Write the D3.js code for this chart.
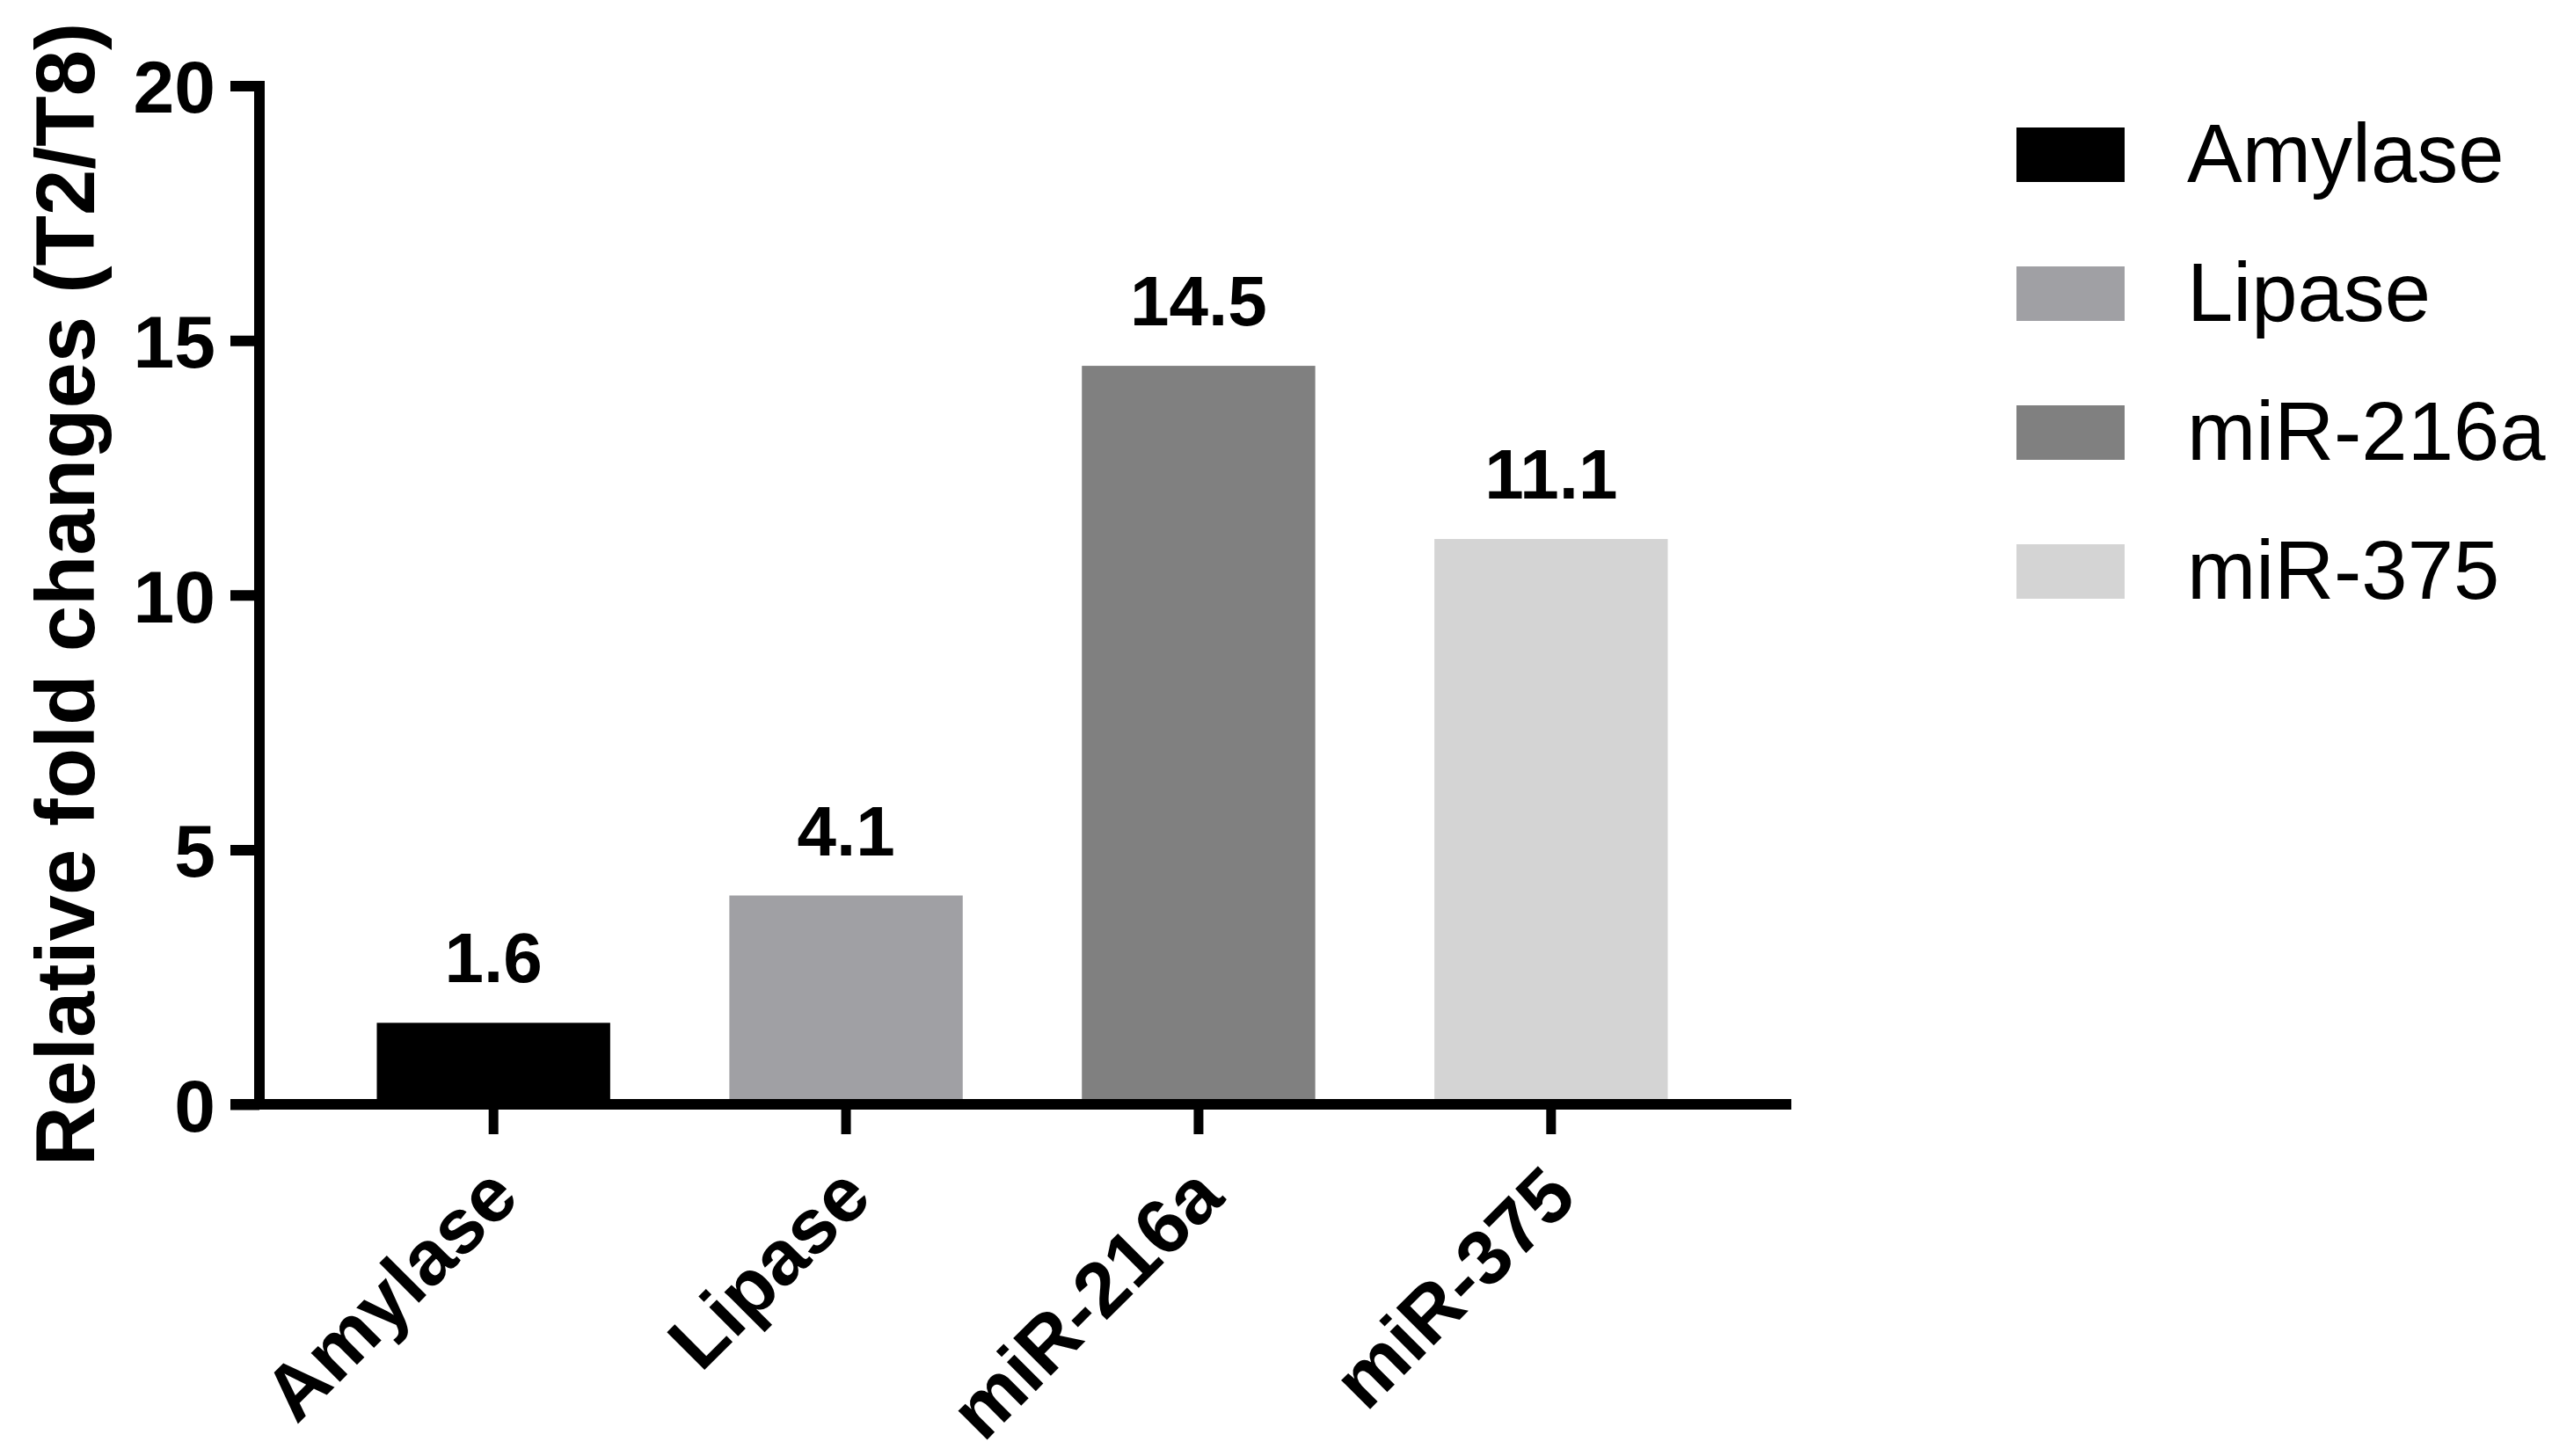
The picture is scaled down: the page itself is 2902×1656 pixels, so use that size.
<!DOCTYPE html>
<html lang="en">
<head>
	<meta charset="UTF-8">
	<title>Relative fold changes (T2/T8)</title>
	<script src="https://d3js.org/d3.v7.min.js"></script>
	<style>
		body {
			margin: 0;
			background: #fff;
		}
		svg {
			display: block;
			background: #fff;
			font-family: "Liberation Sans", Arial, Helvetica, sans-serif;
		}
		.axis path,
		.axis line {
			stroke: #000;
			stroke-width: 12;
		}
		.axis text {
			font-weight: bold;
			fill: #000;
		}
	</style>
</head>
<body>

<script>
	// data
	var categories = ["Amylase", "Lipase", "miR-216a", "miR-375"];
	var values = [1.6, 4.1, 14.5, 11.1];
	var colors = ["#000000", "#a0a0a4", "#808080", "#d4d4d4"];
	var yTicks = [0, 5, 10, 15, 20];
	var yLabel = "Relative fold changes (T2/T8)";

	window.onload = function () {

		var width = 2902,
			height = 1656;

		var svg = d3.select("body").append("svg")
			.attr("width", width)
			.attr("height", height);

		var x = d3.scaleBand()
			.domain(categories)
			.range([295, 2030])
			.paddingInner(0.338)
			.paddingOuter(0.333);

		var y = d3.scaleLinear()
			.domain([0, 20])
			.range([1256, 97.5]);

		var color = d3.scaleOrdinal()
			.domain(categories)
			.range(colors);

		// bars
		svg.append("g")
			.selectAll("rect")
			.data(values)
			.enter().append("rect")
			.attr("x", function (d, i) { return x(categories[i]); })
			.attr("y", function (d) { return y(d); })
			.attr("width", x.bandwidth())
			.attr("height", function (d) { return y(0) - y(d); })
			.style("fill", function (d, i) { return color(categories[i]); });

		// value labels on top
		svg.append("g")
			.selectAll("text")
			.data(values)
			.enter().append("text")
			.attr("x", function (d, i) { return x(categories[i]) + x.bandwidth() / 2; })
			.attr("y", function (d) { return y(d) - 46; })
			.attr("text-anchor", "middle")
			.style("font-size", "80px")
			.style("font-weight", "bold")
			.text(function (d) { return d3.format(".1f")(d); });

		// y axis
		var yAxis = svg.append("g")
			.attr("class", "axis")
			.attr("transform", "translate(295,0)")
			.call(d3.axisLeft(y).tickValues(yTicks).tickSize(33).tickSizeOuter(0).tickPadding(17));

		yAxis.select(".domain").remove();
		yAxis.selectAll(".tick text")
			.style("font-size", "84px")
			.attr("dy", "0.36em");

		yAxis.append("line")
			.attr("x1", 0).attr("x2", 0)
			.attr("y1", y(20) - 5.5)
			.attr("y2", y(0) + 6);

		// x axis
		var xAxis = svg.append("g")
			.attr("class", "axis")
			.attr("transform", "translate(0," + y(0) + ")")
			.call(d3.axisBottom(x).tickSize(34).tickSizeOuter(0));

		xAxis.select(".domain").remove();
		xAxis.selectAll(".tick line").style("stroke-width", 11);
		xAxis.selectAll(".tick text")
			.style("font-size", "88px")
			.attr("text-anchor", "end")
			.attr("dy", null)
			.attr("y", null)
			.attr("transform", "translate(32,109) rotate(-45)");

		xAxis.append("line")
			.attr("x1", 262).attr("x2", 2037)
			.attr("y1", 0).attr("y2", 0);

		// y axis title
		svg.append("text")
			.attr("transform", "translate(107,676) rotate(-90)")
			.attr("text-anchor", "middle")
			.style("font-size", "94px")
			.style("font-weight", "bold")
			.text(yLabel);

		// legend
		var legend = svg.append("g")
			.selectAll("g")
			.data(categories)
			.enter().append("g")
			.attr("transform", function (d, i) { return "translate(2293," + (145 + i * 158) + ")"; });

		legend.append("rect")
			.attr("width", 123)
			.attr("height", 62)
			.style("fill", function (d) { return color(d); });

		legend.append("text")
			.attr("x", 194)
			.attr("y", 62)
			.style("font-size", "94px")
			.text(function (d) { return d; });
	};
</script>

</body>
</html>
